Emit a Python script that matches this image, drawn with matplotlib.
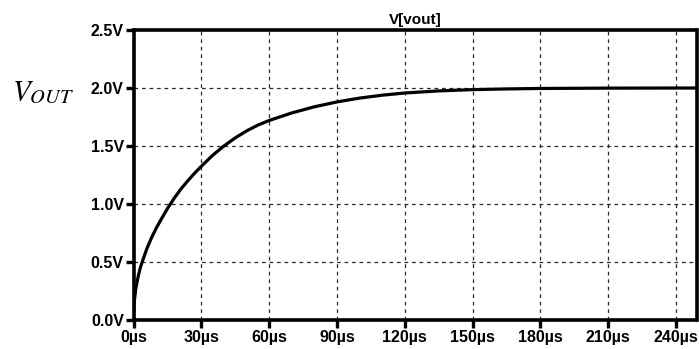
import matplotlib
matplotlib.use("Agg")
import matplotlib.pyplot as plt

# data (time in µs, voltage in V)
t_us = [0, 0.3, 1, 2, 3, 4, 6, 8, 10, 12, 15, 18, 21, 24, 27, 30, 35, 40, 45, 50,
        55, 60, 70, 80, 90, 100, 110, 120, 135, 150, 165, 180, 210, 249]
v_out = [0, 0.15, 0.27, 0.37, 0.45, 0.51, 0.62, 0.71, 0.79, 0.86, 0.96, 1.05, 1.13,
         1.20, 1.265, 1.325, 1.42, 1.50, 1.57, 1.63, 1.68, 1.72, 1.785, 1.838,
         1.88, 1.913, 1.938, 1.957, 1.975, 1.986, 1.992, 1.996, 1.999, 2.0]
x_ticks = [0, 30, 60, 90, 120, 150, 180, 210, 240]
x_labels = ["0µs", "30µs", "60µs", "90µs", "120µs", "150µs", "180µs", "210µs", "240µs"]
y_ticks = [0.0, 0.5, 1.0, 1.5, 2.0, 2.5]
y_labels = ["0.0V", "0.5V", "1.0V", "1.5V", "2.0V", "2.5V"]
title = "V[vout]"

plt.rcParams['mathtext.fontset'] = 'stix'
W, H = 699, 349
fig = plt.figure(figsize=(W / 100, H / 100), dpi=100)
ax = fig.add_axes([133.5 / W, 1 - 320 / H, (696.5 - 133.5) / W, (320 - 30) / H])

ax.plot(t_us, v_out, color='black', lw=2.3, solid_capstyle='butt', zorder=3)
ax.set_xlim(0, 249)
ax.set_ylim(0, 2.5)
ax.set_xticks(x_ticks)
ax.set_xticklabels(x_labels)
ax.set_yticks(y_ticks)
ax.set_yticklabels(y_labels)
ax.grid(True, color='#2a2a2a', lw=0.9, linestyle=(0, (3, 3)))
for s in ax.spines.values():
    s.set_linewidth(2.6)
    s.set_color('black')
ax.tick_params(direction='out', length=6, width=2.4, color='black', pad=1,
               labelsize=11.5)
for lab in ax.get_xticklabels() + ax.get_yticklabels():
    lab.set_fontfamily('Liberation Sans')
    lab.set_fontweight('bold')
ax.set_title(title, fontsize=11, fontweight='bold', family='Liberation Sans', pad=4)

fig.text(12 / W, 1 - 92 / H, r'$V_{OUT}$', fontsize=21, va='center', ha='left')

fig.savefig('out.png', dpi=100)
